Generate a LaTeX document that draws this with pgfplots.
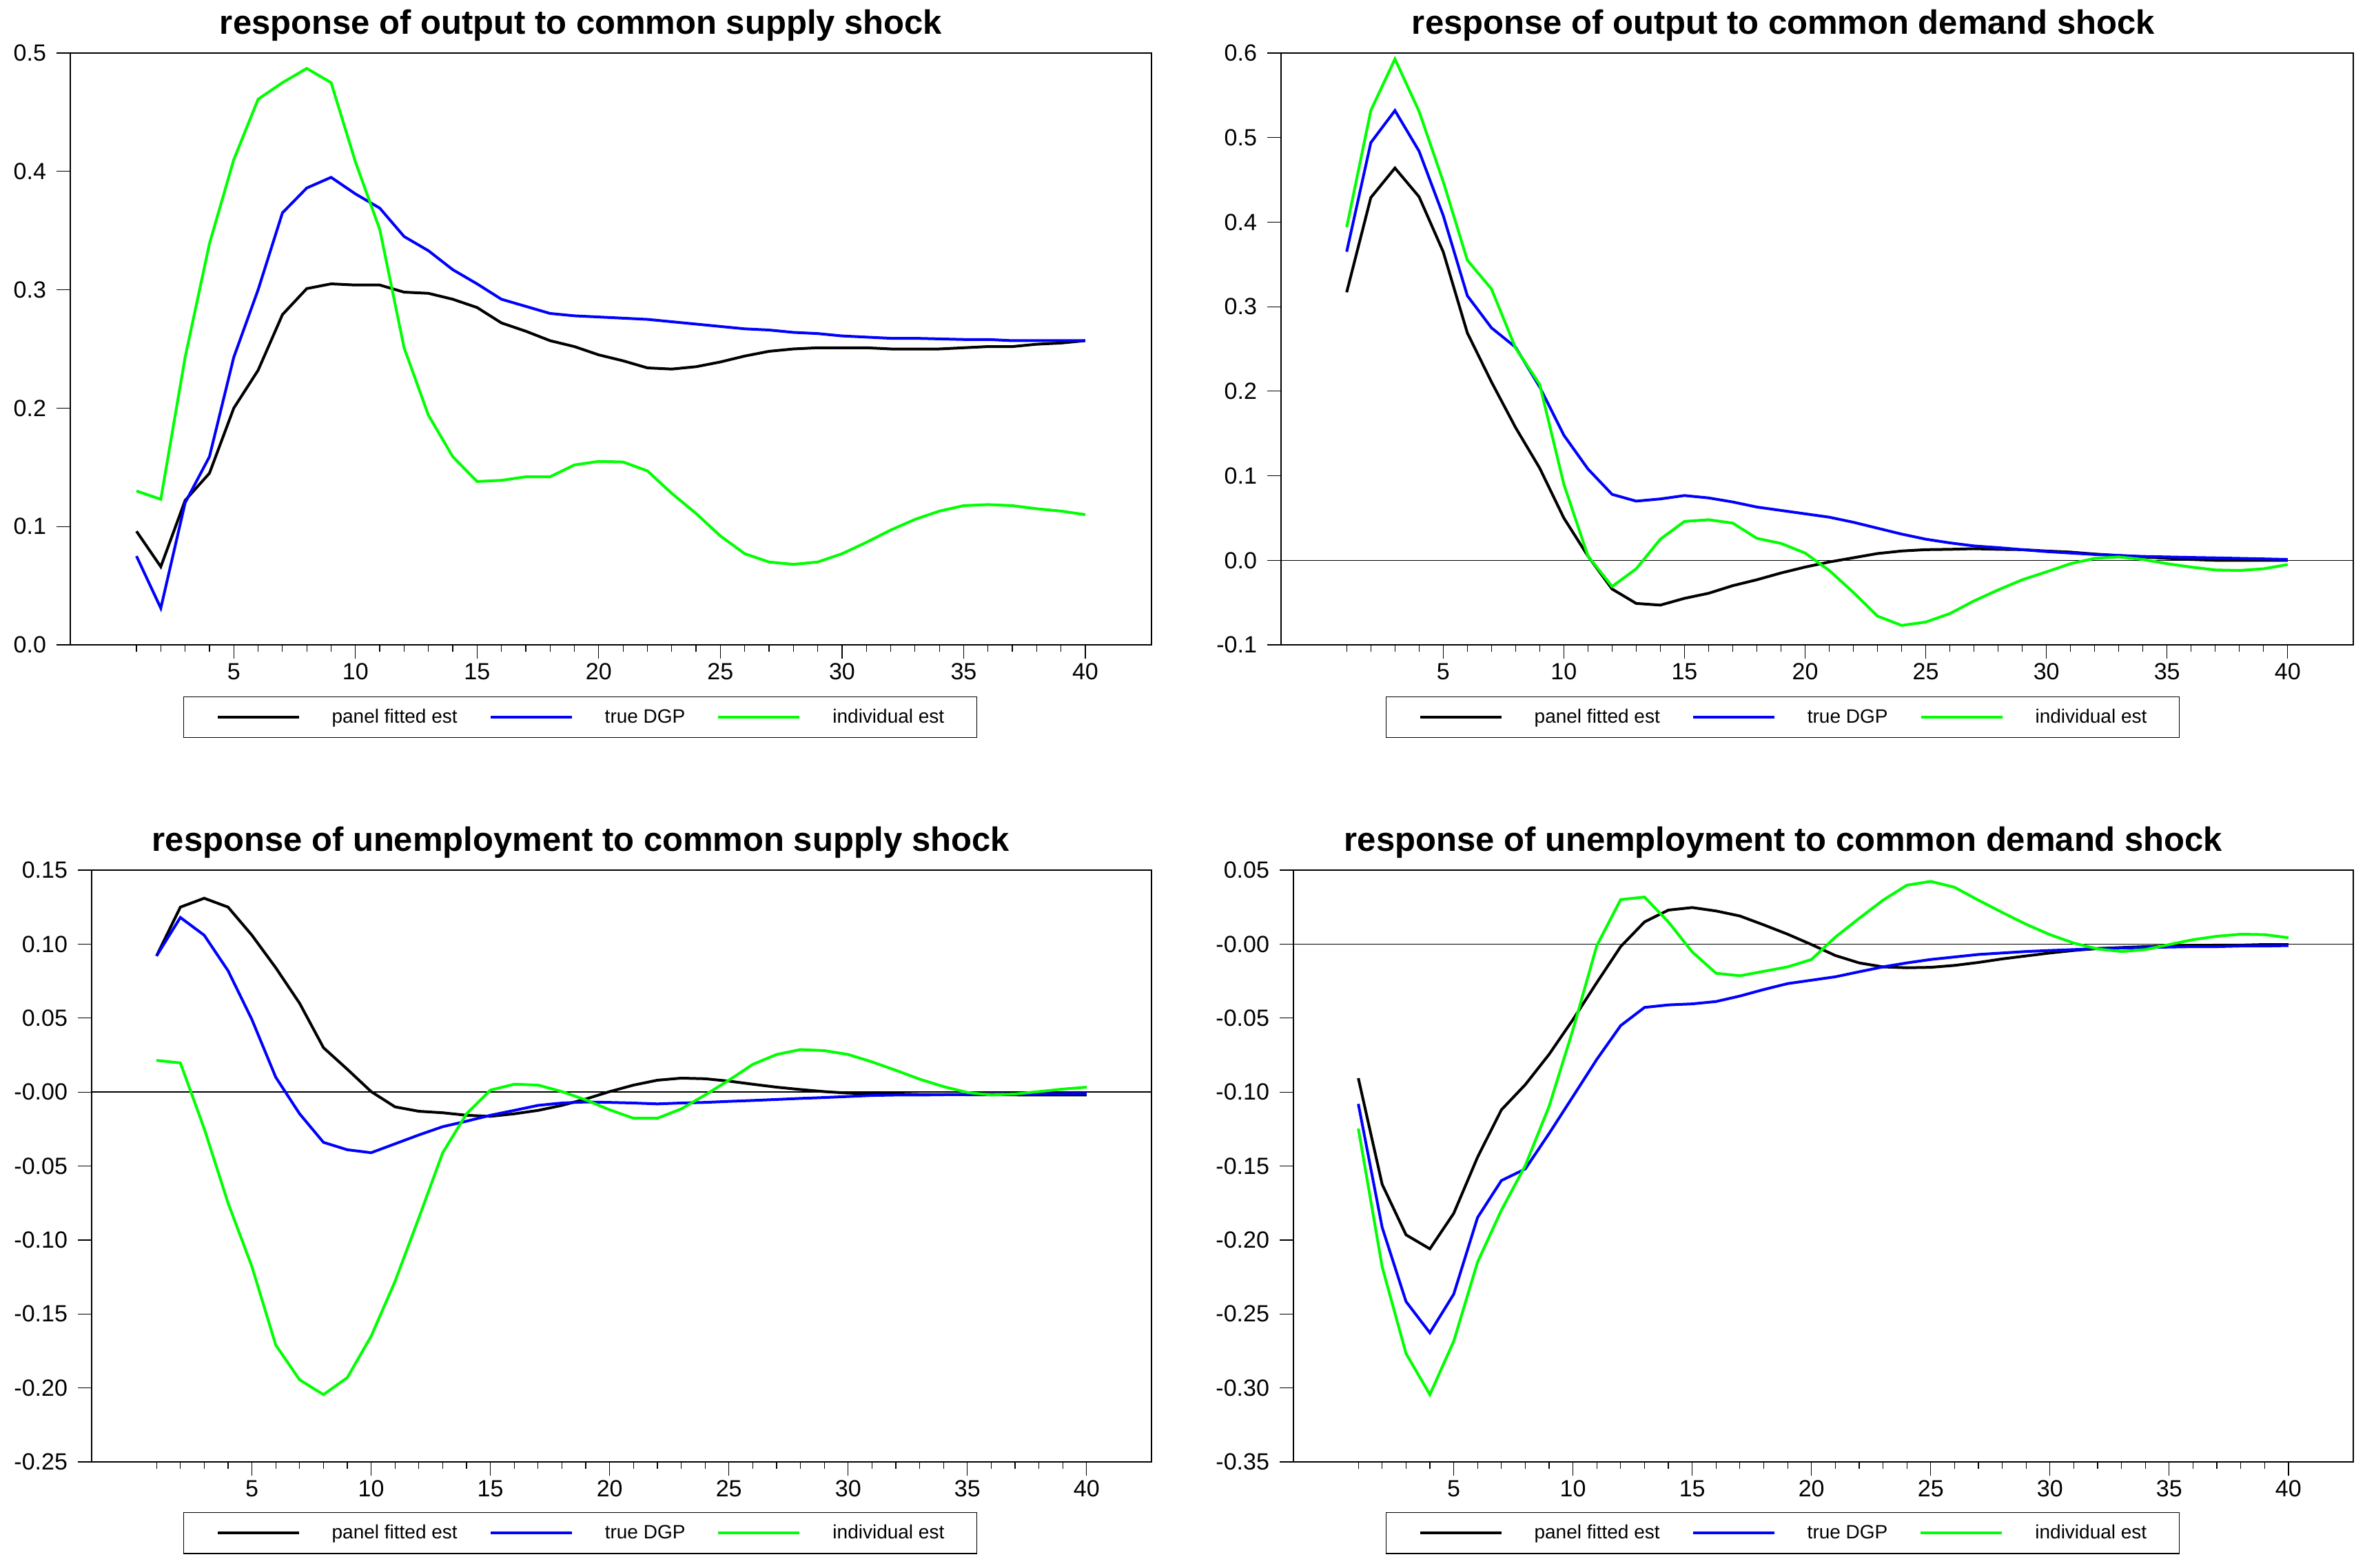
\documentclass[border=0pt]{standalone}
\usepackage{fontspec}
\setmainfont{Liberation Sans}
\usepackage{pgfplots}
\pgfplotsset{compat=1.18}
\definecolor{pblue}{RGB}{0,0,255}
\definecolor{pgreen}{RGB}{0,255,0}
\pgfplotsset{
  irf/.style={
    scale only axis, height=429.5bp,
    xmin=-1.72, xmax=42.72,
    xtick={5,10,...,40}, minor xtick={1,...,40},
    tick pos=left, tick align=outside,
    major tick length=10bp, minor tick length=5bp,
    tick style={black, line width=0.6bp},
    axis line style={line width=0.6bp},
    ticklabel style={font=\fontsize{17bp}{20bp}\selectfont},
    yticklabel style={xshift=-4bp},
    /pgf/number format/assume math mode=true,
    title style={font=\fontsize{24.5bp}{28bp}\selectfont\bfseries, anchor=base, yshift=8bp},
    legend columns=3,
    legend style={draw=black, line width=0.6bp, anchor=north, inner xsep=23.5bp, inner ysep=9bp,
      font=\fontsize{14bp}{16bp}\selectfont, /tikz/column sep=23bp, nodes={inner sep=0pt}},
    legend image code/.code={\draw[##1, line width=2bp] (0bp,0bp) -- (59bp,0bp);},
    every axis plot/.append style={line width=2bp},
  }
}
\begin{document}
\begin{tikzpicture}
\useasboundingbox (0,0) rectangle (1716bp,-1138bp);
% ---------------- top left
\begin{axis}[irf, at={(51bp,-468bp)}, anchor=south west, width=784.5bp,
  ymin=0, ymax=0.5, ytick={0,0.1,0.2,0.3,0.4,0.5}, yticklabels={0.0,0.1,0.2,0.3,0.4,0.5},
  title={response of output to common supply shock},
  title style={at={(axis description cs:0.4723,1)}},
  legend style={at={(axis description cs:0.4716,-0.0873)}}]
\addplot[black] coordinates {(1,0.096)(2,0.066)(3,0.122)(4,0.145)(5,0.200)(6,0.232)(7,0.279)(8,0.301)(9,0.305)(10,0.304)(11,0.304)(12,0.298)(13,0.297)(14,0.292)(15,0.285)(16,0.272)(17,0.265)(18,0.257)(19,0.252)(20,0.245)(21,0.240)(22,0.234)(23,0.233)(24,0.235)(25,0.239)(26,0.244)(27,0.248)(28,0.250)(29,0.251)(30,0.251)(31,0.251)(32,0.250)(33,0.250)(34,0.250)(35,0.251)(36,0.252)(37,0.252)(38,0.254)(39,0.255)(40,0.257)};
\addplot[pblue] coordinates {(1,0.075)(2,0.031)(3,0.120)(4,0.159)(5,0.243)(6,0.300)(7,0.365)(8,0.386)(9,0.395)(10,0.381)(11,0.369)(12,0.345)(13,0.333)(14,0.317)(15,0.305)(16,0.292)(17,0.286)(18,0.280)(19,0.278)(20,0.277)(21,0.276)(22,0.275)(23,0.273)(24,0.271)(25,0.269)(26,0.267)(27,0.266)(28,0.264)(29,0.263)(30,0.261)(31,0.260)(32,0.259)(33,0.259)(34,0.2585)(35,0.258)(36,0.258)(37,0.257)(38,0.257)(39,0.257)(40,0.257)};
\addplot[pgreen] coordinates {(1,0.130)(2,0.123)(3,0.243)(4,0.339)(5,0.410)(6,0.461)(7,0.475)(8,0.487)(9,0.475)(10,0.408)(11,0.351)(12,0.251)(13,0.194)(14,0.159)(15,0.138)(16,0.139)(17,0.142)(18,0.142)(19,0.152)(20,0.155)(21,0.1545)(22,0.147)(23,0.128)(24,0.111)(25,0.092)(26,0.077)(27,0.070)(28,0.068)(29,0.070)(30,0.077)(31,0.0866)(32,0.097)(33,0.106)(34,0.113)(35,0.1176)(36,0.1185)(37,0.1176)(38,0.115)(39,0.113)(40,0.110)};
\legend{panel fitted est,true DGP,individual est}
\end{axis}
% ---------------- top right
\begin{axis}[irf, at={(929.5bp,-468bp)}, anchor=south west, width=778bp,
  ymin=-0.1, ymax=0.6, ytick={-0.1,0,0.1,0.2,0.3,0.4,0.5,0.6}, yticklabels={-0.1,0.0,0.1,0.2,0.3,0.4,0.5,0.6},
  title={response of output to common demand shock},
  title style={at={(axis description cs:0.4685,1)}},
  legend style={at={(axis description cs:0.4679,-0.0873)}}]
\addplot[black, line width=0.8bp, forget plot] coordinates {(-1.72,0)(42.72,0)};
\addplot[black] coordinates {(1,0.317)(2,0.429)(3,0.464)(4,0.430)(5,0.365)(6,0.269)(7,0.211)(8,0.157)(9,0.109)(10,0.050)(11,0.005)(12,-0.034)(13,-0.051)(14,-0.053)(15,-0.045)(16,-0.039)(17,-0.030)(18,-0.023)(19,-0.015)(20,-0.008)(21,-0.002)(22,0.003)(23,0.008)(24,0.011)(25,0.0126)(26,0.013)(27,0.0137)(28,0.013)(29,0.0126)(30,0.011)(31,0.0097)(32,0.0074)(33,0.0057)(34,0.004)(35,0.0023)(36,0.001)(37,0.0)(38,0.0)(39,0.0)(40,0.0)};
\addplot[pblue] coordinates {(1,0.365)(2,0.494)(3,0.532)(4,0.484)(5,0.408)(6,0.313)(7,0.275)(8,0.252)(9,0.205)(10,0.148)(11,0.108)(12,0.078)(13,0.070)(14,0.0726)(15,0.0766)(16,0.0738)(17,0.069)(18,0.063)(19,0.059)(20,0.055)(21,0.051)(22,0.045)(23,0.038)(24,0.031)(25,0.025)(26,0.0206)(27,0.017)(28,0.015)(29,0.0126)(30,0.0103)(31,0.0086)(32,0.0069)(33,0.0057)(34,0.0046)(35,0.004)(36,0.0034)(37,0.0029)(38,0.0023)(39,0.0017)(40,0.001)};
\addplot[pgreen] coordinates {(1,0.394)(2,0.532)(3,0.593)(4,0.531)(5,0.448)(6,0.355)(7,0.321)(8,0.251)(9,0.208)(10,0.090)(11,0.005)(12,-0.031)(13,-0.010)(14,0.025)(15,0.046)(16,0.048)(17,0.044)(18,0.026)(19,0.020)(20,0.0086)(21,-0.012)(22,-0.038)(23,-0.066)(24,-0.077)(25,-0.073)(26,-0.063)(27,-0.048)(28,-0.035)(29,-0.023)(30,-0.0137)(31,-0.004)(32,0.0023)(33,0.004)(34,0.001)(35,-0.004)(36,-0.008)(37,-0.0114)(38,-0.012)(39,-0.010)(40,-0.005)};
\legend{panel fitted est,true DGP,individual est}
\end{axis}
% ---------------- bottom left
\begin{axis}[irf, at={(66.5bp,-1061bp)}, anchor=south west, width=769bp,
  ymin=-0.25, ymax=0.15, ytick={-0.25,-0.2,-0.15,-0.1,-0.05,0,0.05,0.1,0.15},
  yticklabels={-0.25,-0.20,-0.15,-0.10,-0.05,-0.00,0.05,0.10,0.15},
  title={response of unemployment to common supply shock},
  title style={at={(axis description cs:0.4616,1)}},
  legend style={at={(axis description cs:0.461,-0.085)}}]
\addplot[black, line width=0.8bp, forget plot] coordinates {(-1.72,0)(42.72,0)};
\addplot[black] coordinates {(1,0.092)(2,0.125)(3,0.131)(4,0.125)(5,0.106)(6,0.084)(7,0.060)(8,0.030)(9,0.0154)(10,0.0003)(11,-0.010)(12,-0.013)(13,-0.014)(14,-0.0157)(15,-0.0164)(16,-0.0147)(17,-0.0124)(18,-0.009)(19,-0.0047)(20,0.0003)(21,0.0047)(22,0.008)(23,0.0094)(24,0.009)(25,0.0074)(26,0.0053)(27,0.0033)(28,0.0017)(29,0.0003)(30,-0.0007)(31,-0.001)(32,-0.0013)(33,-0.0017)(34,-0.0017)(35,-0.0018)(36,-0.0018)(37,-0.0019)(38,-0.002)(39,-0.002)(40,-0.002)};
\addplot[pblue] coordinates {(1,0.092)(2,0.118)(3,0.106)(4,0.082)(5,0.049)(6,0.010)(7,-0.0147)(8,-0.034)(9,-0.039)(10,-0.041)(11,-0.035)(12,-0.029)(13,-0.0234)(14,-0.0197)(15,-0.0157)(16,-0.0124)(17,-0.009)(18,-0.0074)(19,-0.0067)(20,-0.007)(21,-0.0074)(22,-0.008)(23,-0.0074)(24,-0.007)(25,-0.0063)(26,-0.0057)(27,-0.005)(28,-0.0043)(29,-0.0037)(30,-0.003)(31,-0.0023)(32,-0.002)(33,-0.002)(34,-0.0018)(35,-0.0016)(36,-0.0015)(37,-0.0014)(38,-0.0012)(39,-0.0011)(40,-0.001)};
\addplot[pgreen] coordinates {(1,0.0214)(2,0.0197)(3,-0.0247)(4,-0.075)(5,-0.118)(6,-0.171)(7,-0.1945)(8,-0.2045)(9,-0.193)(10,-0.165)(11,-0.128)(12,-0.085)(13,-0.041)(14,-0.0147)(15,0.0013)(16,0.0053)(17,0.0047)(18,0.0003)(19,-0.0053)(20,-0.012)(21,-0.0177)(22,-0.0177)(23,-0.0114)(24,-0.002)(25,0.008)(26,0.0187)(27,0.0254)(28,0.0287)(29,0.028)(30,0.0254)(31,0.0204)(32,0.0147)(33,0.0087)(34,0.0037)(35,-0.0003)(36,-0.002)(37,-0.0013)(38,0.0003)(39,0.002)(40,0.0033)};
\legend{panel fitted est,true DGP,individual est}
\end{axis}
% ---------------- bottom right
\begin{axis}[irf, at={(938.5bp,-1061bp)}, anchor=south west, width=769bp,
  ymin=-0.35, ymax=0.05, ytick={-0.35,-0.3,-0.25,-0.2,-0.15,-0.1,-0.05,0,0.05},
  yticklabels={-0.35,-0.30,-0.25,-0.20,-0.15,-0.10,-0.05,-0.00,0.05},
  title={response of unemployment to common demand shock},
  title style={at={(axis description cs:0.4623,1)}},
  legend style={at={(axis description cs:0.4616,-0.085)}}]
\addplot[black, line width=0.8bp, forget plot] coordinates {(-1.72,0)(42.72,0)};
\addplot[black] coordinates {(1,-0.0906)(2,-0.1624)(3,-0.1965)(4,-0.206)(5,-0.182)(6,-0.144)(7,-0.112)(8,-0.095)(9,-0.0745)(10,-0.051)(11,-0.026)(12,-0.0017)(13,0.015)(14,0.023)(15,0.0247)(16,0.0224)(17,0.019)(18,0.013)(19,0.0067)(20,-0.0003)(21,-0.0077)(22,-0.0127)(23,-0.0154)(24,-0.016)(25,-0.0157)(26,-0.0144)(27,-0.0124)(28,-0.010)(29,-0.008)(30,-0.006)(31,-0.0043)(32,-0.003)(33,-0.0023)(34,-0.0017)(35,-0.0013)(36,-0.001)(37,-0.0007)(38,-0.0007)(39,-0.0003)(40,-0.0003)};
\addplot[pblue] coordinates {(1,-0.108)(2,-0.1915)(3,-0.2416)(4,-0.2627)(5,-0.2366)(6,-0.1848)(7,-0.1598)(8,-0.152)(9,-0.128)(10,-0.103)(11,-0.0779)(12,-0.0551)(13,-0.0428)(14,-0.0411)(15,-0.0404)(16,-0.0388)(17,-0.0351)(18,-0.0307)(19,-0.0267)(20,-0.0244)(21,-0.0221)(22,-0.0187)(23,-0.0154)(24,-0.0127)(25,-0.0104)(26,-0.0087)(27,-0.007)(28,-0.006)(29,-0.005)(30,-0.0043)(31,-0.0037)(32,-0.003)(33,-0.0027)(34,-0.0023)(35,-0.002)(36,-0.0017)(37,-0.0017)(38,-0.0013)(39,-0.0013)(40,-0.001)};
\addplot[pgreen] coordinates {(1,-0.1247)(2,-0.2182)(3,-0.2767)(4,-0.3045)(5,-0.2684)(6,-0.2149)(7,-0.1798)(8,-0.1497)(9,-0.1096)(10,-0.0578)(11,-0.001)(12,0.0301)(13,0.0318)(14,0.015)(15,-0.0053)(16,-0.0197)(17,-0.0214)(18,-0.0184)(19,-0.0154)(20,-0.0104)(21,0.0047)(22,0.0174)(23,0.0297)(24,0.0398)(25,0.0424)(26,0.0384)(27,0.0297)(28,0.0214)(29,0.0134)(30,0.0064)(31,0.0007)(32,-0.0033)(33,-0.005)(34,-0.0037)(35,-0.0003)(36,0.003)(37,0.0053)(38,0.0067)(39,0.0064)(40,0.0043)};
\legend{panel fitted est,true DGP,individual est}
\end{axis}
\end{tikzpicture}
\end{document}
